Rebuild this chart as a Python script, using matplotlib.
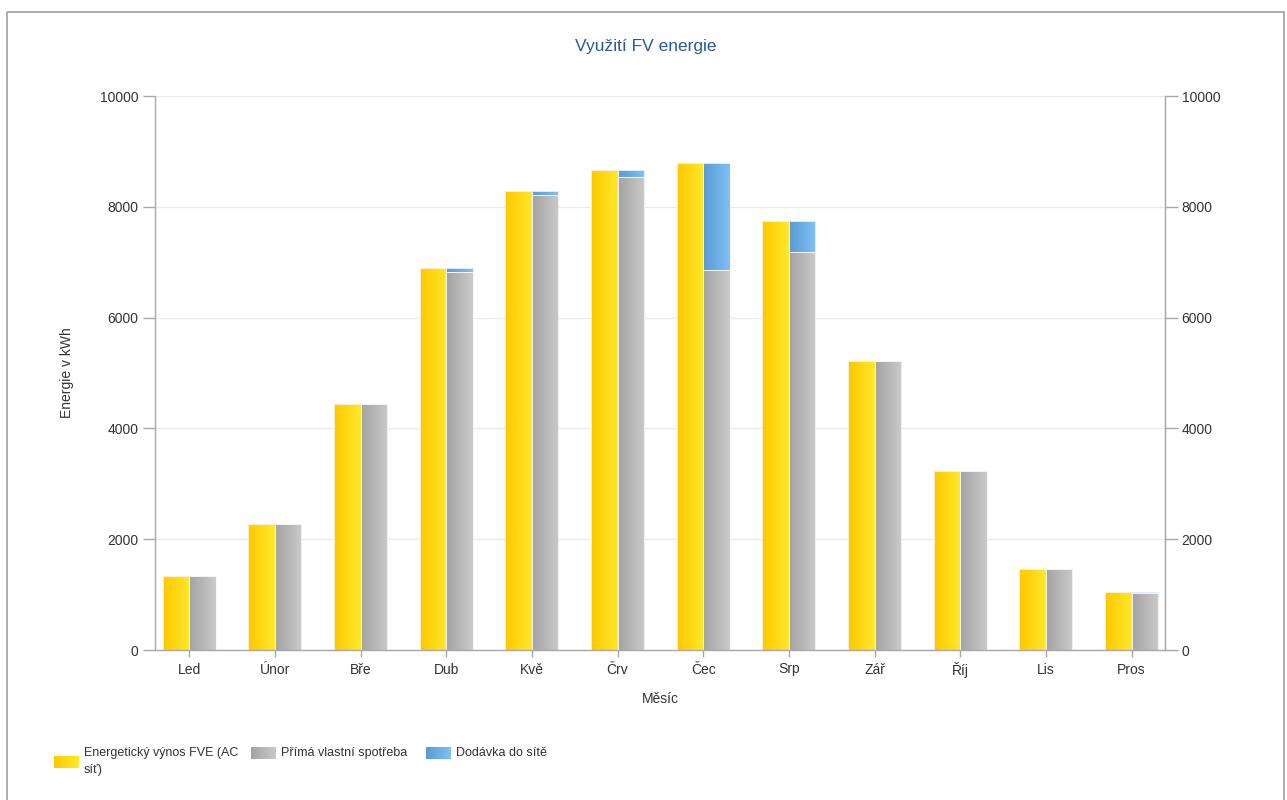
import numpy as np
import matplotlib
matplotlib.use("Agg")
import matplotlib.pyplot as plt
from matplotlib.patches import Rectangle
from matplotlib.colors import LinearSegmentedColormap

plt.rcParams['font.family'] = ['Liberation Sans', 'DejaVu Sans']

# ---- data ----
months = ["Led", "Únor", "Bře", "Dub", "Kvě", "Črv", "Čec", "Srp", "Zář", "Říj", "Lis", "Pros"]
yield_ac = [1340, 2280, 4440, 6890, 8290, 8660, 8790, 7750, 5225, 3235, 1460, 1050]
self_use = [1340, 2280, 4440, 6820, 8220, 8540, 6860, 7180, 5225, 3235, 1460, 1025]
feed_in = [0, 0, 0, 70, 70, 120, 1930, 570, 0, 0, 0, 25]
series_names = ["Energetický výnos FVE (AC\nsíť)", "Přímá vlastní spotřeba", "Dodávka do sítě"]
y_ticks = [0, 2000, 4000, 6000, 8000, 10000]

W, H = 1287, 800
fig = plt.figure(figsize=(W / 100, H / 100), dpi=100)
fig.patch.set_facecolor('white')

ax_l, ax_r, ax_t, ax_b = 155, 1165, 96, 650
ax = fig.add_axes([ax_l / W, 1 - ax_b / H, (ax_r - ax_l) / W, (ax_b - ax_t) / H])

cmap_y = LinearSegmentedColormap.from_list('y', ['#FFC800', '#FFE82A'])
cmap_g = LinearSegmentedColormap.from_list('g', ['#A3A3A3', '#CACACA'])
cmap_b = LinearSegmentedColormap.from_list('b', ['#5A9AD6', '#80C0F6'])
grad = np.linspace(0, 1, 64).reshape(1, -1)

x = np.arange(len(months))
bw = 0.31

edge = '#F6F6F6'
bars_y = ax.bar(x - bw / 2, yield_ac, bw, facecolor='none', edgecolor=edge, linewidth=0.6, zorder=3)
bars_g = ax.bar(x + bw / 2, self_use, bw, facecolor='none', edgecolor=edge, linewidth=0.6, zorder=3)
bars_b = ax.bar(x + bw / 2, feed_in, bw, bottom=self_use, facecolor='none', edgecolor=edge, linewidth=0.6, zorder=3)


def fill_gradient(axis, patches, cmap):
    for p in patches:
        h = p.get_height()
        if h <= 0:
            continue
        x0, y0 = p.get_x(), p.get_y()
        im = axis.imshow(grad, cmap=cmap, aspect='auto', interpolation='bilinear',
                         extent=(x0, x0 + p.get_width(), y0, y0 + h), zorder=2)
        im.set_clip_path(p)


fill_gradient(ax, bars_y, cmap_y)
fill_gradient(ax, bars_g, cmap_g)
fill_gradient(ax, bars_b, cmap_b)

ax.set_xlim(-0.4, 11.39)
ax.set_ylim(0, 10000)
ax.set_yticks(y_ticks)
ax.set_xticks(x)
ax.set_xticklabels(months)
ax.grid(axis='y', color='#EBEBEB', linewidth=1, zorder=0)
ax.set_axisbelow(True)

ax.spines['top'].set_visible(False)
for s in ['left', 'right', 'bottom']:
    ax.spines[s].set_color('#A8A8A8')
    ax.spines[s].set_linewidth(1)

ax.tick_params(axis='y', direction='out', length=9, width=1, color='#A8A8A8',
               labelsize=10, labelcolor='#333333', pad=3)
ax.tick_params(axis='x', direction='out', length=5, width=1, color='#A8A8A8',
               labelsize=10, labelcolor='#333333', pad=4)

ax2 = ax.twinx()
ax2.set_ylim(0, 10000)
ax2.set_yticks(y_ticks)
ax2.tick_params(axis='y', direction='out', length=9, width=1, color='#A8A8A8',
                labelsize=10, labelcolor='#333333', pad=3)
for s in ['top', 'left', 'bottom']:
    ax2.spines[s].set_visible(False)
ax2.spines['right'].set_color('#A8A8A8')

ax.set_ylabel("Energie v kWh", fontsize=10, color='#333333')
ax.yaxis.set_label_coords((67 - ax_l) / (ax_r - ax_l), 0.5)
ax.set_xlabel("Měsíc", fontsize=10, color='#333333')
ax.xaxis.set_label_coords(0.5, -(699 - ax_b) / (ax_b - ax_t))
ax.xaxis.label.set_va('center')
ax.yaxis.label.set_va('center')

# overlay in pixel coordinates
ov = fig.add_axes([0, 0, 1, 1], zorder=-1)
ov.set_xlim(0, W)
ov.set_ylim(H, 0)
ov.axis('off')
ov.add_patch(Rectangle((7, 12), 1277, 810, facecolor='none', edgecolor='#A0A0A0', linewidth=1.2))

fig.text(645.5 / W, 1 - 47 / H, "Využití FV energie", ha='center', va='center',
         fontsize=12.5, color='#2A5A96')

# legend
leg = fig.add_axes([0, 0, 1, 1], zorder=5)
leg.set_xlim(0, W)
leg.set_ylim(H, 0)
leg.axis('off')
leg_items = [
    (cmap_y, (54, 756, 25, 12), (84, 747)),
    (cmap_g, (251, 747, 25, 12), (281, 747)),
    (cmap_b, (426, 747, 25, 12), (456, 747)),
]
for (cm, (lx, ly, lw, lh), (tx, ty)), name in zip(leg_items, series_names):
    leg.imshow(grad, cmap=cm, aspect='auto', interpolation='bilinear',
               extent=(lx, lx + lw, ly + lh, ly))
    leg.text(tx, ty, name, ha='left', va='top', fontsize=9, color='#333333', linespacing=1.5)
leg.set_xlim(0, W)
leg.set_ylim(H, 0)

fig.savefig("out.png", dpi=100, facecolor='white')
